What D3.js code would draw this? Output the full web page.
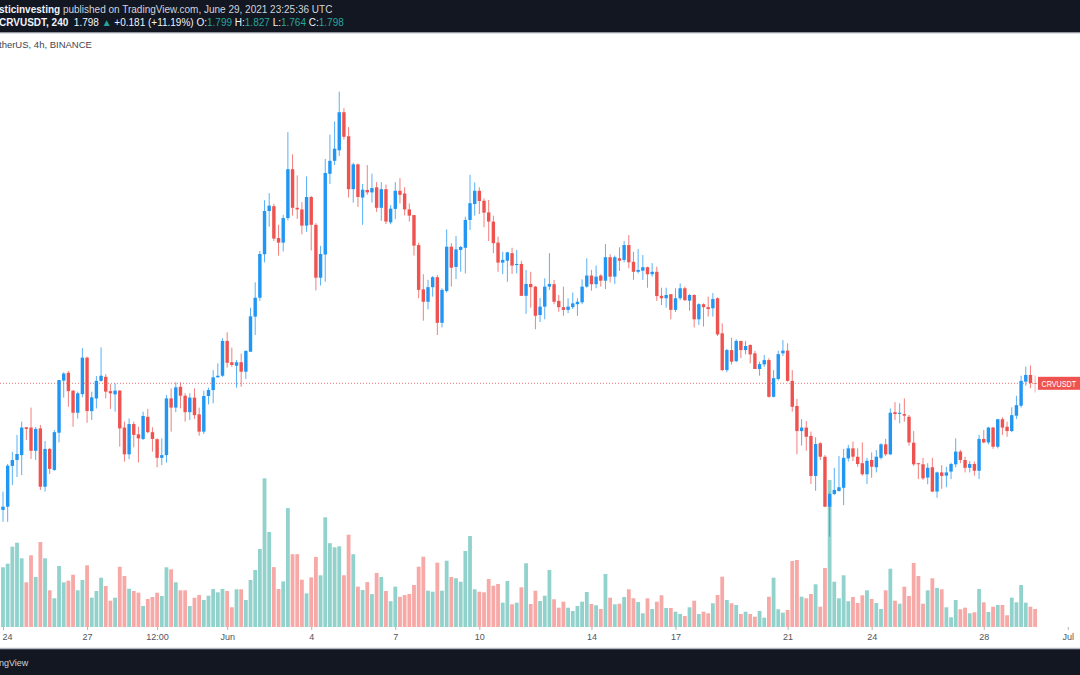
<!DOCTYPE html>
<html>
<head>
<meta charset="utf-8">
<script src="https://cdn.jsdelivr.net/npm/d3@7"></script>
<style>
  html, body { margin: 0; padding: 0; background: #fff; }
  svg { display: block; }
  text { font-family: "Liberation Sans", Arial, sans-serif; }
</style>
</head>
<body>
<svg id="chart" width="1080" height="675"></svg>
<script>
// CRVUSDT 4h bars, Binance, 24 May - 29 Jun 2021
const startTime = Date.UTC(2021, 4, 24, 0);
const barHours = 4;

// [open, high, low, close]
const candles = [
  [1.329,1.397,1.285,1.341],[1.341,1.499,1.285,1.493],[1.492,1.544,1.421,1.514],[1.514,1.607,1.451,1.536],
  [1.532,1.656,1.458,1.634],[1.635,1.636,1.588,1.629],[1.634,1.708,1.518,1.548],[1.548,1.636,1.514,1.629],
  [1.631,1.644,1.403,1.415],[1.415,1.584,1.397,1.555],[1.555,1.559,1.462,1.481],[1.477,1.625,1.474,1.617],
  [1.615,1.810,1.579,1.810],[1.808,1.839,1.745,1.834],[1.837,1.844,1.711,1.769],[1.771,1.771,1.637,1.689],
  [1.689,1.767,1.667,1.761],[1.758,1.928,1.746,1.893],[1.893,1.897,1.652,1.695],[1.695,1.767,1.662,1.746],
  [1.742,1.825,1.705,1.807],[1.807,1.931,1.804,1.826],[1.822,1.832,1.742,1.767],[1.769,1.795,1.703,1.761],
  [1.757,1.798,1.693,1.771],[1.771,1.773,1.563,1.631],[1.634,1.656,1.508,1.535],[1.535,1.668,1.517,1.647],
  [1.647,1.656,1.561,1.607],[1.609,1.637,1.505,1.594],[1.592,1.693,1.588,1.677],[1.674,1.703,1.613,1.617],
  [1.617,1.635,1.545,1.592],[1.591,1.594,1.487,1.522],[1.522,1.594,1.495,1.532],[1.532,1.755,1.504,1.742],
  [1.742,1.779,1.619,1.708],[1.708,1.802,1.691,1.783],[1.785,1.802,1.705,1.752],[1.752,1.761,1.656,1.691],
  [1.691,1.761,1.662,1.745],[1.745,1.779,1.666,1.680],[1.683,1.708,1.604,1.619],[1.619,1.771,1.610,1.751],
  [1.751,1.782,1.720,1.773],[1.773,1.847,1.724,1.820],[1.820,1.872,1.820,1.826],[1.826,1.965,1.822,1.955],
  [1.955,1.987,1.856,1.874],[1.876,1.930,1.859,1.866],[1.863,1.884,1.782,1.876],[1.876,1.908,1.785,1.841],
  [1.841,1.920,1.814,1.918],[1.915,2.078,1.915,2.046],[2.045,2.172,1.977,2.115],[2.115,2.288,2.103,2.277],
  [2.276,2.476,2.246,2.436],[2.436,2.502,2.378,2.456],[2.454,2.463,2.325,2.334],[2.336,2.385,2.271,2.319],
  [2.319,2.422,2.286,2.410],[2.410,2.728,2.401,2.591],[2.591,2.646,2.419,2.448],[2.448,2.568,2.407,2.442],
  [2.442,2.469,2.350,2.382],[2.382,2.564,2.359,2.488],[2.488,2.492,2.290,2.385],[2.385,2.391,2.142,2.189],
  [2.189,2.307,2.160,2.277],[2.275,2.629,2.174,2.577],[2.574,2.719,2.536,2.622],[2.622,2.768,2.606,2.667],
  [2.661,2.878,2.640,2.802],[2.802,2.817,2.701,2.711],[2.713,2.747,2.486,2.517],[2.517,2.615,2.467,2.609],
  [2.609,2.612,2.451,2.488],[2.486,2.536,2.385,2.515],[2.514,2.606,2.496,2.505],[2.505,2.574,2.467,2.521],
  [2.524,2.543,2.433,2.448],[2.448,2.543,2.400,2.517],[2.517,2.534,2.388,2.397],[2.394,2.458,2.387,2.445],
  [2.444,2.543,2.406,2.511],[2.511,2.558,2.464,2.496],[2.501,2.524,2.420,2.442],[2.442,2.464,2.397,2.419],
  [2.421,2.421,2.271,2.308],[2.310,2.319,2.113,2.144],[2.146,2.202,2.030,2.100],[2.100,2.181,2.072,2.154],
  [2.154,2.195,2.119,2.191],[2.191,2.199,1.977,2.022],[2.022,2.150,2.005,2.144],[2.140,2.368,2.134,2.304],
  [2.304,2.317,2.156,2.226],[2.229,2.344,2.184,2.294],[2.292,2.307,2.211,2.303],[2.300,2.415,2.205,2.403],
  [2.403,2.570,2.366,2.465],[2.462,2.542,2.419,2.511],[2.511,2.524,2.425,2.473],[2.474,2.483,2.376,2.430],
  [2.431,2.477,2.325,2.397],[2.397,2.419,2.280,2.317],[2.319,2.341,2.211,2.245],[2.245,2.285,2.202,2.255],
  [2.252,2.285,2.174,2.283],[2.280,2.300,2.203,2.234],[2.236,2.292,2.205,2.240],[2.240,2.252,2.121,2.122],
  [2.122,2.218,2.055,2.166],[2.166,2.211,2.078,2.154],[2.156,2.159,1.998,2.048],[2.051,2.114,2.025,2.082],
  [2.082,2.187,2.035,2.156],[2.156,2.280,2.144,2.166],[2.165,2.181,2.091,2.100],[2.103,2.125,2.063,2.080],
  [2.080,2.156,2.048,2.070],[2.070,2.113,2.058,2.082],[2.080,2.134,2.073,2.094],[2.091,2.113,2.048,2.100],
  [2.098,2.183,2.091,2.156],[2.156,2.261,2.152,2.197],[2.197,2.218,2.141,2.165],[2.165,2.234,2.150,2.193],
  [2.197,2.202,2.156,2.178],[2.178,2.314,2.147,2.265],[2.265,2.276,2.172,2.193],[2.193,2.271,2.166,2.265],
  [2.261,2.302,2.214,2.252],[2.255,2.325,2.246,2.310],[2.310,2.347,2.224,2.246],[2.248,2.285,2.181,2.211],
  [2.211,2.295,2.205,2.218],[2.215,2.273,2.181,2.228],[2.228,2.230,2.152,2.202],[2.202,2.243,2.193,2.211],
  [2.211,2.230,2.103,2.121],[2.122,2.152,2.088,2.113],[2.113,2.152,2.078,2.125],[2.128,2.128,2.035,2.070],
  [2.070,2.150,2.062,2.113],[2.113,2.168,2.106,2.150],[2.150,2.156,2.103,2.106],[2.104,2.128,2.067,2.125],
  [2.125,2.128,2.005,2.035],[2.035,2.094,2.014,2.091],[2.091,2.094,2.008,2.080],[2.080,2.119,2.045,2.073],
  [2.076,2.132,2.045,2.110],[2.113,2.116,1.973,1.979],[1.983,2.020,1.843,1.847],[1.847,1.925,1.839,1.921],
  [1.921,1.967,1.868,1.878],[1.880,1.961,1.876,1.955],[1.955,1.955,1.891,1.921],[1.921,1.955,1.905,1.936],
  [1.940,1.942,1.872,1.905],[1.909,1.918,1.851,1.851],[1.851,1.878,1.826,1.869],[1.868,1.903,1.859,1.884],
  [1.884,1.891,1.745,1.748],[1.748,1.847,1.746,1.817],[1.814,1.919,1.808,1.906],[1.909,1.958,1.899,1.919],
  [1.919,1.946,1.804,1.807],[1.807,1.847,1.693,1.711],[1.714,1.740,1.535,1.621],[1.621,1.665,1.567,1.634],
  [1.634,1.658,1.548,1.600],[1.603,1.619,1.425,1.455],[1.455,1.598,1.400,1.573],[1.576,1.580,1.514,1.526],
  [1.526,1.532,1.339,1.341],[1.341,1.393,1.230,1.388],[1.388,1.485,1.384,1.403],[1.399,1.529,1.397,1.413],
  [1.411,1.555,1.347,1.522],[1.520,1.570,1.508,1.557],[1.557,1.582,1.510,1.526],[1.526,1.557,1.489,1.499],
  [1.502,1.579,1.456,1.461],[1.461,1.522,1.425,1.511],[1.514,1.542,1.448,1.489],[1.487,1.551,1.468,1.526],
  [1.522,1.576,1.516,1.572],[1.572,1.592,1.529,1.535],[1.535,1.705,1.532,1.689],[1.691,1.728,1.662,1.684],
  [1.685,1.724,1.650,1.689],[1.684,1.742,1.656,1.678],[1.674,1.681,1.567,1.579],[1.578,1.621,1.492,1.498],
  [1.502,1.502,1.443,1.499],[1.498,1.522,1.440,1.446],[1.449,1.502,1.424,1.485],[1.487,1.522,1.395,1.397],
  [1.397,1.471,1.374,1.468],[1.468,1.495,1.407,1.455],[1.456,1.489,1.413,1.468],[1.471,1.504,1.443,1.499],
  [1.498,1.594,1.487,1.545],[1.545,1.551,1.502,1.514],[1.514,1.526,1.468,1.485],[1.485,1.510,1.468,1.499],
  [1.499,1.508,1.456,1.474],[1.474,1.607,1.443,1.592],[1.592,1.625,1.576,1.579],[1.579,1.637,1.572,1.634],
  [1.634,1.637,1.555,1.563],[1.563,1.666,1.557,1.665],[1.665,1.672,1.607,1.634],[1.637,1.656,1.600,1.621],
  [1.621,1.709,1.617,1.680],[1.678,1.752,1.666,1.717],[1.715,1.826,1.708,1.807],[1.804,1.860,1.789,1.829],
  [1.829,1.864,1.780,1.799],[1.799,1.827,1.764,1.798]
];

// volume per bar, millions of CRV
const volumes = [
  5.97,6.33,8.03,8.43,6.87,4.47,7.17,5.0,8.5,6.87,
  3.67,2.87,6.1,4.47,4.63,5.23,3.67,4.7,6.17,2.93,
  3.6,4.93,4.1,2.63,2.93,6.03,5.1,3.83,3.6,3.43,
  2.1,2.8,3.0,3.43,3.1,5.97,5.77,4.47,3.67,3.67,
  2.1,2.93,3.2,2.7,3.13,3.8,3.47,3.8,3.6,1.97,
  3.77,3.77,2.7,4.7,5.7,7.8,14.87,9.5,5.99,3.8,
  4.56,11.89,7.28,7.28,4.73,3.36,4.96,7.01,5.17,10.97,
  8.38,7.97,8.07,5.17,9.23,7.28,4.04,3.7,4.49,3.29,
  5.41,5.0,3.6,2.58,4.04,3.02,3.19,3.3,4.2,6.03,
  7.03,3.63,3.53,6.43,3.63,6.63,5.0,4.87,4.53,7.6,
  9.1,3.77,3.53,3.47,4.8,4.13,4.3,2.43,4.6,2.27,
  2.43,3.97,6.37,2.3,3.63,2.6,3.13,5.7,2.77,1.93,
  2.53,1.93,1.6,2.1,2.53,3.5,2.3,2.17,1.8,5.3,
  2.93,2.27,2.33,3.0,3.77,2.87,2.5,1.37,2.87,1.8,
  2.53,3.17,1.9,1.9,1.53,1.3,1.1,1.97,2.63,1.3,
  1.53,1.37,2.37,3.2,5.03,2.7,2.37,2.2,1.3,1.53,
  1.3,1.03,1.6,0.93,3.03,4.93,1.77,1.43,1.7,6.6,
  6.7,3.03,2.87,3.3,4.27,2.03,5.9,14.7,4.53,2.87,
  5.17,2.57,3.0,2.4,3.17,3.67,2.8,2.4,1.8,3.67,
  5.83,2.63,2.33,4.03,3.1,6.4,5.1,2.33,3.67,4.87,
  3.9,3.77,1.97,0.97,2.7,1.77,1.93,1.37,1.47,3.8,
  2.47,1.5,2.03,2.2,2.2,1.17,2.93,2.47,4.2,2.43,
  2.03,1.8
];

const tickDates = [
  '2021-05-24T00:00Z','2021-05-27T00:00Z','2021-05-29T12:00Z','2021-06-01T00:00Z',
  '2021-06-04T00:00Z','2021-06-07T00:00Z','2021-06-10T00:00Z','2021-06-14T00:00Z',
  '2021-06-17T00:00Z','2021-06-21T00:00Z','2021-06-24T00:00Z','2021-06-28T00:00Z',
  '2021-07-01T00:00Z'
];
const tickLabels = ['24','27','12:00','Jun','4','7','10','14','17','21','24','28','Jul'];

const symbol = 'CRVUSDT';
const publisher = 'sticinvesting';
const change = '+0.181 (+11.19%)';

const UP = '#2196f3', DOWN = '#ef5350';
const VOL_UP = '#92d2cc', VOL_DOWN = '#f7a9a7';
const TEAL = '#26a69a';

const svg = d3.select('#chart');
svg.append('rect').attr('width', 1080).attr('height', 675).attr('fill', '#fff');

const bars = candles.map((c, i) => ({
  t: new Date(startTime + i * barHours * 3600e3),
  open: c[0], high: c[1], low: c[2], close: c[3],
  vol: volumes[i]
}));
const last = bars[bars.length - 1];

const x = d3.scaleUtc()
  .domain([new Date(Date.UTC(2021, 4, 24)), new Date(Date.UTC(2021, 6, 1))])
  .range([3, 1067.8]);
const y = d3.scaleLinear().domain([1, 3]).range([598.76, 58.76]);
const yVol = d3.scaleLinear().domain([0, 10]).range([627, 527]);

// volume first, candles over it
svg.append('g').selectAll('rect').data(bars).join('rect')
  .attr('x', d => x(d.t) - 1.9)
  .attr('width', 3.8)
  .attr('y', d => yVol(d.vol))
  .attr('height', d => yVol(0) - yVol(d.vol))
  .attr('fill', d => d.close >= d.open ? VOL_UP : VOL_DOWN);

// last price line
svg.append('line')
  .attr('x1', 0).attr('x2', 1038)
  .attr('y1', y(last.close)).attr('y2', y(last.close))
  .attr('stroke', DOWN).attr('stroke-width', 1)
  .attr('stroke-dasharray', '1,2').attr('opacity', 0.8);

const candle = svg.append('g').selectAll('g').data(bars).join('g')
  .attr('opacity', (d, i) => i === bars.length - 1 ? 0.6 : 1);
candle.append('line')
  .attr('x1', d => x(d.t)).attr('x2', d => x(d.t))
  .attr('y1', d => y(d.high)).attr('y2', d => y(d.low))
  .attr('stroke', d => d.close >= d.open ? UP : DOWN)
  .attr('stroke-width', 1)
  .attr('stroke-opacity', 0.75);
candle.append('rect')
  .attr('x', d => x(d.t) - 1.7)
  .attr('width', 3.4)
  .attr('y', d => y(Math.max(d.open, d.close)))
  .attr('height', d => Math.max(1, Math.abs(y(d.open) - y(d.close))))
  .attr('fill', d => d.close >= d.open ? UP : DOWN);

// price label at the right edge; the narrow TV font is imitated with a horizontal squeeze
const ly = y(last.close);
svg.append('rect').attr('x', 1038).attr('y', ly - 6.5)
  .attr('width', 42).attr('height', 13).attr('fill', DOWN);
svg.append('text')
  .attr('transform', `translate(1041.5,${ly + 3.5}) scale(0.76,1)`)
  .attr('font-size', 9.5).attr('fill', '#fff').text(symbol);

// time axis
const axis = svg.append('g')
  .attr('transform', 'translate(0,627)')
  .call(d3.axisBottom(x)
    .tickValues(tickDates.map(d => new Date(d)))
    .tickFormat((d, i) => tickLabels[i])
    .tickSize(3)
    .tickPadding(4));
axis.select('.domain').remove();
axis.selectAll('line').attr('stroke', '#b2b5be');
axis.selectAll('text')
  .attr('fill', '#50535e')
  .attr('font-size', 9)
  .attr('font-family', '"Liberation Sans", Arial, sans-serif');
// first label sits on the left edge, as in the screenshot
axis.selectAll('text').filter((d, i) => i === 0).attr('text-anchor', 'start').attr('x', -1);

// header band
svg.append('rect').attr('width', 1080).attr('height', 32).attr('fill', '#131722');
svg.append('rect').attr('y', 32).attr('width', 1080).attr('height', 1.3).attr('fill', '#9598a1');

const l1 = svg.append('text').attr('x', -1).attr('y', 12.5)
  .attr('font-size', 10).attr('fill', '#d1d4dc');
l1.append('tspan').attr('font-weight', 'bold').attr('fill', '#f0f3fa').text(publisher);
l1.append('tspan').text(' published on TradingView.com, June 29, 2021 23:25:36 UTC');

const fmt = d3.format('.3f');
const l2parts = [
  { t: symbol + ', 240', bold: true, c: '#f0f3fa' },
  { t: '  ' + fmt(last.close) + ' ', c: '#f0f3fa' },
  { t: '\u25B2', c: TEAL },
  { t: ' ' + change + ' ', c: '#f0f3fa' },
  { t: 'O:', c: '#f0f3fa' }, { t: fmt(last.open) + ' ', c: TEAL },
  { t: 'H:', c: '#f0f3fa' }, { t: fmt(last.high) + ' ', c: TEAL },
  { t: 'L:', c: '#f0f3fa' }, { t: fmt(last.low) + ' ', c: TEAL },
  { t: 'C:', c: '#f0f3fa' }, { t: fmt(last.close), c: TEAL }
];
const l2 = svg.append('text').attr('x', -1).attr('y', 25.5)
  .attr('font-size', 10).attr('xml:space', 'preserve');
l2.selectAll('tspan').data(l2parts).join('tspan')
  .attr('fill', d => d.c)
  .attr('font-weight', d => d.bold ? 'bold' : null)
  .text(d => d.t);

svg.append('text').attr('x', -1).attr('y', 47.5)
  .attr('font-size', 9.5).attr('fill', '#434651')
  .text('therUS, 4h, BINANCE');

// footer band
svg.append('rect').attr('y', 647.8).attr('width', 1080).attr('height', 1.4).attr('fill', '#b2b5be');
svg.append('rect').attr('y', 649.2).attr('width', 1080).attr('height', 26).attr('fill', '#131722');
svg.append('text').attr('x', -1).attr('y', 666)
  .attr('font-size', 9).attr('fill', '#d1d4dc')
  .text('ngView');
</script>
</body>
</html>
